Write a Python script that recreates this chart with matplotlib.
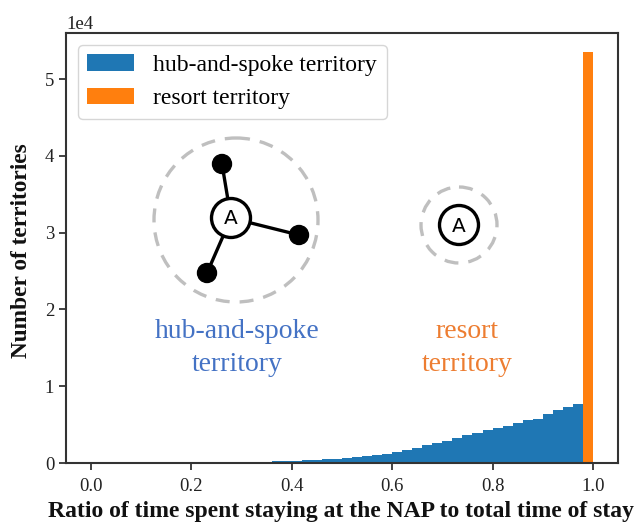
import matplotlib
matplotlib.use('Agg')
import matplotlib.pyplot as plt
import matplotlib.patches as patches

W, H = 637, 523

# bins of width 0.02, counts
bin_left = [round(0.02 * i, 2) for i in range(49)]
hub_counts = [0, 0, 0, 0, 0, 0, 0, 0, 5, 10,
              30, 40, 60, 80, 100, 120, 150, 180, 220, 260,
              300, 340, 400, 470, 550, 650, 760, 900, 1050, 1230,
              1450, 1650, 1900, 2300, 2600, 2900, 3200, 3600, 3950, 4260,
              4600, 4870, 5200, 5650, 5780, 6350, 6870, 7260, 7700]
resort_left = [0.98]
resort_counts = [53500]
bin_width = 0.02

plt.rcParams['font.family'] = ['Liberation Serif', 'DejaVu Serif']

fig = plt.figure(figsize=(W / 100, H / 100), dpi=100)
ax = fig.add_axes([66 / W, 1 - 463 / H, (618 - 66) / W, (463 - 33) / H])

ax.bar(bin_left, hub_counts, width=bin_width, align='edge', color='#1f77b4', label='hub-and-spoke territory')
ax.bar(resort_left, resort_counts, width=bin_width, align='edge', color='#ff7f0e', label='resort territory')

ax.set_xlim(-0.05, 1.05)
ax.set_ylim(0, 56000)
ax.set_xticks([0.0, 0.2, 0.4, 0.6, 0.8, 1.0])
ax.set_yticks([0, 10000, 20000, 30000, 40000, 50000])
ax.ticklabel_format(axis='y', style='sci', scilimits=(4, 4))
ax.yaxis.get_offset_text().set_fontsize(13.5)
ax.tick_params(labelsize=13.5, width=1.2, length=5, color='#222222', labelcolor='#222222')
ax.tick_params(axis='x', pad=5.5)
for s in ax.spines.values():
    s.set_linewidth(1.5)
    s.set_color('#333333')

ax.legend(loc='upper left', fontsize=17, handlelength=2.0, handletextpad=0.8, labelspacing=0.5,
          borderaxespad=0.5, framealpha=0.8)

fig.text(22 / W, 1 - 251 / H, 'Number of territories', rotation=90, ha='center', va='center',
         fontsize=16.8, fontweight='bold', color='#111111')
fig.text(341 / W, 1 - 511 / H, 'Ratio of time spent staying at the NAP to total time of stay',
         ha='center', va='center', fontsize=17, fontweight='bold', color='#111111')

# schematic overlay, in picture pixels
ov = fig.add_axes([0, 0, 1, 1], facecolor='none')
ov.set_xlim(0, W)
ov.set_ylim(H, 0)
ov.axis('off')

hub = (231, 218)
resort = (459, 225)
spokes = [(222, 164), (299, 235), (207, 273)]

ov.add_patch(patches.Circle((236, 220), 82, fill=False, ec='#bfbfbf', lw=2.4, ls=(0, (4.2, 3))))
ov.add_patch(patches.Circle(resort, 38, fill=False, ec='#bfbfbf', lw=2.4, ls=(0, (4.2, 3))))
for p in spokes:
    ov.plot([hub[0], p[0]], [hub[1], p[1]], color='black', lw=2.4, zorder=2)
    ov.add_patch(patches.Circle(p, 9.5, color='black', zorder=3))
for c in (hub, resort):
    ov.add_patch(patches.Circle(c, 19.5, fc='white', ec='black', lw=2.4, zorder=4))
    ov.text(c[0], c[1] + 1, 'A', ha='center', va='center', fontsize=14.5, family='DejaVu Sans', zorder=5)

ov.text(237, 348, 'hub-and-spoke\nterritory', ha='center', va='center', fontsize=20, color='#4472c4', linespacing=1.4)
ov.text(467, 348, 'resort\nterritory', ha='center', va='center', fontsize=20, color='#ed7d31', linespacing=1.4)

fig.savefig('out.png', dpi=100)
plt.close(fig)
